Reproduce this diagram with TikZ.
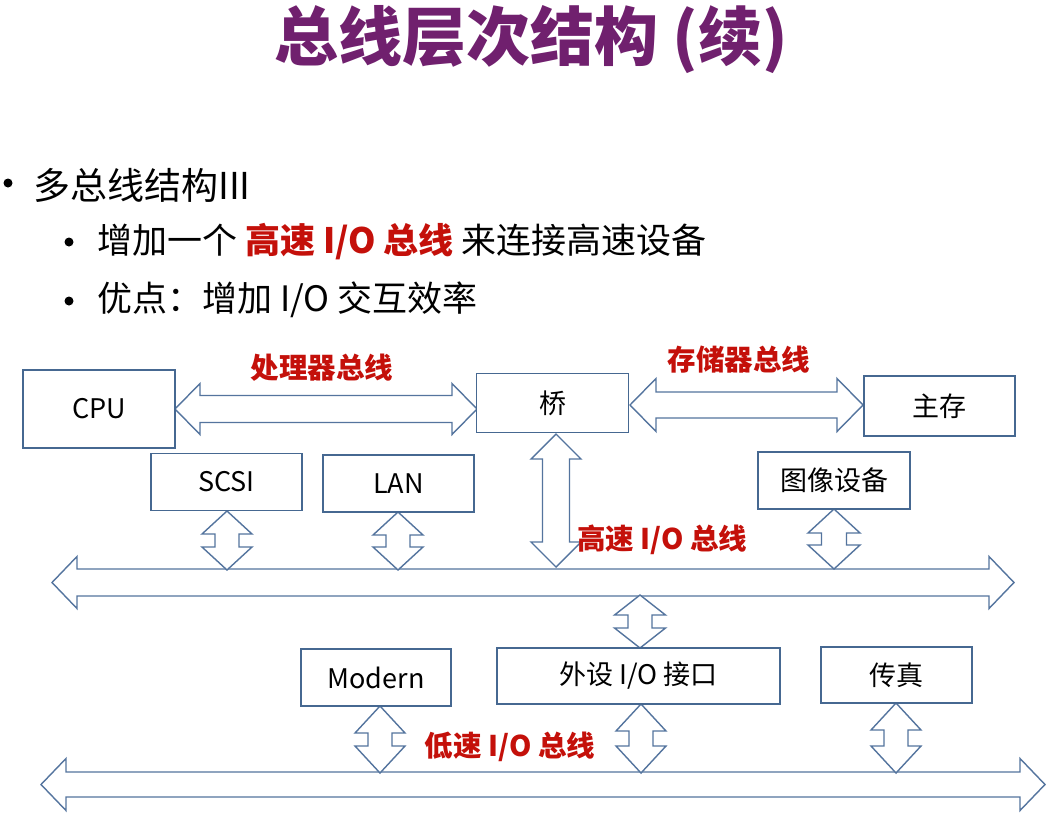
\documentclass[tikz,border=0pt]{standalone}
\usepackage{fontspec}
\setmainfont{Noto Sans CJK SC}
\definecolor{titlepurple}{RGB}{112,32,110}
\definecolor{labelred}{RGB}{196,16,10}
\definecolor{boxblue}{RGB}{70,104,145}
\definecolor{arrowblue}{RGB}{84,116,158}
\newcommand{\harrow}[6]{%
  \draw[blockarrow] (#1,#3) -- ({#1+#6},{#3-#5}) -- ({#1+#6},{#3-#4}) -- ({#2-#6},{#3-#4}) -- ({#2-#6},{#3-#5}) -- (#2,#3)
    -- ({#2-#6},{#3+#5}) -- ({#2-#6},{#3+#4}) -- ({#1+#6},{#3+#4}) -- ({#1+#6},{#3+#5}) -- cycle;}
\newcommand{\varrow}[6]{%
  \draw[blockarrow] (#1,#2) -- ({#1+#5},{#2+#6}) -- ({#1+#4},{#2+#6}) -- ({#1+#4},{#3-#6}) -- ({#1+#5},{#3-#6}) -- (#1,#3)
    -- ({#1-#5},{#3-#6}) -- ({#1-#4},{#3-#6}) -- ({#1-#4},{#2+#6}) -- ({#1-#5},{#2+#6}) -- cycle;}
\begin{document}
\begin{tikzpicture}[x=1pt,y=-1pt,
  blockarrow/.style={draw=arrowblue,line width=1.4pt,fill=white,line join=miter},
  unit/.style={draw=boxblue,line width=1.3pt,fill=white,inner sep=0pt,outer sep=0pt,font=\fontsize{27}{30}\selectfont},
  buslabel/.style={text=labelred,font=\fontsize{28.5}{32}\selectfont\bfseries,inner sep=0pt},
  bulletone/.style={anchor=west,inner sep=0pt,font=\fontsize{37}{42}\selectfont},
  bullettwo/.style={anchor=west,inner sep=0pt,font=\fontsize{35}{40}\selectfont},
  bulletdot/.style={circle,fill=black,draw=none,inner sep=0pt,outer sep=0pt,minimum width=9pt,minimum height=9pt}]
\useasboundingbox[fill=white] (0,0) rectangle (1064,820);

% title
\node[text=titlepurple,font=\fontsize{64}{70}\selectfont\bfseries,inner sep=0pt] (title) at (531,40) {总线层次结构 (续)};

% bullets
\node[bulletdot] (b1dot) at (8,183) {};
\node[bulletone] (b1) at (33,185) {多总线结构III};
\node[bulletdot] (b2dot) at (69,242) {};
\node[bullettwo] (b2) at (97,242) {增加一个 {\color{labelred}\bfseries 高速 I/O 总线} 来连接高速设备};
\node[bulletdot] (b3dot) at (69,301) {};
\node[bullettwo] (b3) at (97,300) {优点：增加 I/O 交互效率};

% buses (block arrows)
\harrow{175}{477}{409}{13.5}{25.5}{25}
\harrow{630}{863}{405}{13}{26.5}{26}
\harrow{52}{1014}{582.5}{13.5}{26}{25}
\harrow{41}{1045}{784.5}{12.5}{26}{25}
\varrow{556}{434}{567}{13.5}{25}{25}
\varrow{227}{511}{570}{12}{25}{23}
\varrow{398}{512}{570}{12}{25}{23}
\varrow{834}{509}{569}{12.5}{26}{24}
\varrow{640}{595}{648}{12}{25.5}{20}
\varrow{380}{706}{773}{12}{25}{27}
\varrow{641}{704}{773}{12}{25}{27}
\varrow{896}{703}{773}{12}{25}{27}

% units
\node[unit,minimum width=152pt,minimum height=78pt] (cpu) at (99,409) {CPU};
\node[unit,minimum width=152pt,minimum height=59pt] (bridge) at (552.5,403) {桥};
\node[unit,minimum width=151pt,minimum height=60pt] (mem) at (939.5,406) {主存};
\node[unit,minimum width=151pt,minimum height=57pt] (scsi) at (226.5,482) {SCSI};
\node[unit,minimum width=151pt,minimum height=57pt] (lan) at (398.5,483.5) {LAN};
\node[unit,minimum width=152pt,minimum height=57pt] (img) at (834,480.5) {图像设备};
\node[unit,minimum width=150pt,minimum height=57pt] (modem) at (376,677.5) {Modern};
\node[unit,minimum width=283pt,minimum height=56pt] (perio) at (638.5,676) {外设 I/O 接口};
\node[unit,minimum width=151pt,minimum height=56pt] (fax) at (896.5,675) {传真};

% bus labels
\node[buslabel] (lproc) at (322,368) {处理器总线};
\node[buslabel] (lmem) at (739,360) {存储器总线};
\node[buslabel,anchor=west] (lhigh) at (577,540) {高速 I/O 总线};
\node[buslabel] (llow) at (510,747) {低速 I/O 总线};
\end{tikzpicture}
\end{document}
